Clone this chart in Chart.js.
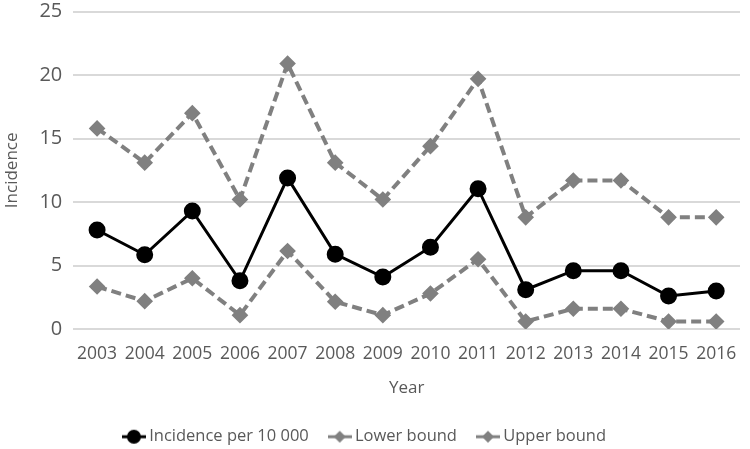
<!DOCTYPE html>
<html>
<head>
<meta charset="utf-8">
<script src="https://cdn.jsdelivr.net/npm/chart.js@4/dist/chart.umd.min.js"></script>
<style>
  html, body { margin: 0; padding: 0; background: #fff; }
  #wrap { width: 750px; height: 449px; }
</style>
</head>
<body>
<div id="wrap"><canvas id="chart"></canvas></div>
<script>
const years = ['2003','2004','2005','2006','2007','2008','2009','2010','2011','2012','2013','2014','2015','2016'];
const incidence = [7.8, 5.85, 9.3, 3.8, 11.9, 5.9, 4.1, 6.45, 11.05, 3.1, 4.6, 4.6, 2.6, 3.0];
const lowerBound = [3.35, 2.2, 4.0, 1.1, 6.15, 2.15, 1.1, 2.8, 5.5, 0.6, 1.6, 1.6, 0.6, 0.6];
const upperBound = [15.8, 13.1, 17.0, 10.2, 20.9, 13.1, 10.2, 14.4, 19.7, 8.8, 11.7, 11.7, 8.8, 8.8];
const yTicks = [0, 5, 10, 15, 20, 25];

const font = 'Open Sans, sans-serif';
const grey = '#808080';
const textGrey = '#595959';

// small legend icon: line segment with the marker in the middle
function legendIcon(color, shape) {
  const c = document.createElement('canvas');
  c.width = 24; c.height = 16;
  const g = c.getContext('2d');
  g.fillStyle = color;
  g.strokeStyle = color;
  g.lineWidth = 3;
  g.beginPath(); g.moveTo(0, 8); g.lineTo(24, 8); g.stroke();
  g.beginPath();
  if (shape === 'circle') {
    g.arc(12, 8, 7, 0, Math.PI * 2);
  } else {
    g.moveTo(12, 2); g.lineTo(18, 8); g.lineTo(12, 14); g.lineTo(6, 8); g.closePath();
  }
  g.fill();
  return c;
}
const icons = [legendIcon('#000', 'circle'), legendIcon(grey, 'diamond'), legendIcon(grey, 'diamond')];

// nudge the legend row after layout
const legendShift = {
  id: 'legendShift',
  afterLayout(chart) {
    const lg = chart.legend;
    lg.top += 6; lg.bottom += 6;
    lg.left -= 8; lg.right -= 8;
  }
};

new Chart(document.getElementById('chart'), {
  type: 'line',
  data: {
    labels: years,
    datasets: [
      {
        label: 'Incidence per 10 000',
        data: incidence,
        borderColor: '#000',
        backgroundColor: '#000',
        borderWidth: 3,
        pointStyle: 'circle',
        pointRadius: 7,
        tension: 0
      },
      {
        label: 'Lower bound',
        data: lowerBound,
        borderColor: grey,
        backgroundColor: grey,
        borderWidth: 4,
        borderDash: [10, 5],
        pointStyle: 'rectRot',
        pointRadius: 5.5,
        tension: 0
      },
      {
        label: 'Upper bound',
        data: upperBound,
        borderColor: grey,
        backgroundColor: grey,
        borderWidth: 4,
        borderDash: [10, 5],
        pointStyle: 'rectRot',
        pointRadius: 5.5,
        tension: 0
      }
    ]
  },
  options: {
    responsive: true,
    maintainAspectRatio: false,
    animation: false,
    layout: { padding: { top: 0, right: 3, left: 2, bottom: 0 } },
    plugins: {
      legend: {
        position: 'bottom',
        labels: {
          usePointStyle: true,
          pointStyleWidth: 14,
          boxHeight: 16,
          padding: 24,
          color: textGrey,
          font: { family: font, size: 16.5 },
          generateLabels: chart => {
            const items = Chart.defaults.plugins.legend.labels.generateLabels(chart);
            items.forEach((it, i) => { it.pointStyle = icons[i]; });
            return items;
          }
        }
      },
      tooltip: { enabled: false }
    },
    scales: {
      x: {
        offset: true,
        grid: { display: false },
        border: { display: false },
        ticks: { color: textGrey, font: { family: font, size: 17.5 }, maxRotation: 0, autoSkip: false, padding: 6 },
        title: {
          display: true,
          text: 'Year',
          color: textGrey,
          font: { family: font, size: 17 },
          padding: { top: 8, bottom: 0 }
        }
      },
      y: {
        min: 0,
        max: 25,
        afterBuildTicks: axis => { axis.ticks = yTicks.map(v => ({ value: v })); },
        grid: { color: '#d9d9d9', lineWidth: 2, drawTicks: false },
        border: { display: false },
        ticks: { color: textGrey, font: { family: font, size: 20, lineHeight: 0.05 }, padding: 11 },
        title: {
          display: true,
          text: 'Incidence',
          color: textGrey,
          font: { family: font, size: 17 },
          padding: { top: 0, bottom: 6 }
        }
      }
    }
  },
  plugins: [legendShift]
});
</script>
</body>
</html>
